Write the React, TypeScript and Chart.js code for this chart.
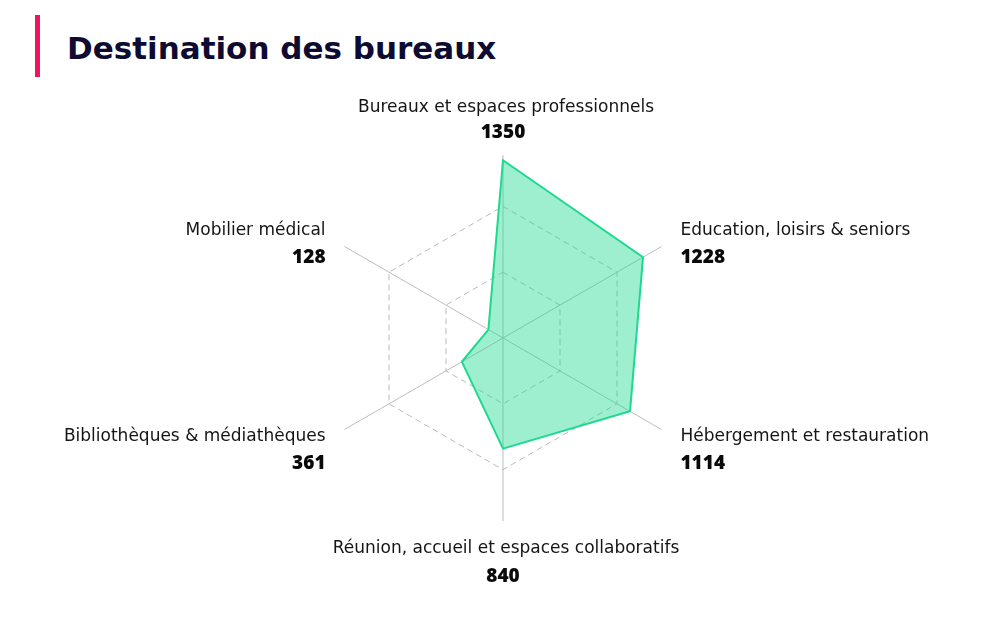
import {useRef, useEffect} from "react";
import {Chart, registerables} from "chart.js";

Chart.register(...registerables);

const categories = [
  "Bureaux et espaces professionnels",
  "Education, loisirs & seniors",
  "Hébergement et restauration",
  "Réunion, accueil et espaces collaboratifs",
  "Bibliothèques & médiathèques",
  "Mobilier médical",
];

const values = [1350, 1228, 1114, 840, 361, 128];

// dashed rings drawn at these values, the outer edge of the web is scaleMax
const ringValues = [0, 500, 1000];
const scaleMax = 1390;

const NAME_FONT = "17px 'DejaVu Sans'";
const VALUE_FONT = "800 19px 'Open Sans'";

// draws the two-line labels (name + bold value) around the web
const pointLabelsPlugin = {
  id: "pointLabels2",
  afterDraw(chart: any) {
    const scale = chart.scales.r;
    const ctx = chart.ctx;
    ctx.save();
    ctx.textBaseline = "middle";
    categories.forEach((name, i) => {
      const p = scale.getPointPosition(i, scale.drawingArea);
      const dx = p.x - scale.xCenter;
      const dy = p.y - scale.yCenter;
      let x = p.x;
      let yName = p.y;
      let yVal = p.y;
      let align: CanvasTextAlign = "center";
      if (Math.abs(dx) < 1) {
        x = p.x + 3;
        if (dy < 0) {
          yName = p.y - 47;
          yVal = p.y - 22;
        } else {
          yName = p.y + 28;
          yVal = p.y + 56;
        }
      } else {
        align = dx > 0 ? "left" : "right";
        x = dx > 0 ? p.x + 19 : p.x - 19;
        if (dy < 0) {
          yName = p.y - 16;
          yVal = p.y + 11;
        } else {
          yName = p.y + 7;
          yVal = p.y + 34;
        }
      }
      ctx.textAlign = align;
      ctx.fillStyle = "#151515";
      ctx.font = NAME_FONT;
      ctx.fillText(name, x, yName);
      ctx.font = VALUE_FONT;
      ctx.fillStyle = "#0a0a0a";
      ctx.fillText(String(values[i]), align === "center" ? x - 3 : x, yVal);
    });
    ctx.restore();
  },
};

const RadarChart = () => {
  const canvasRef = useRef<HTMLCanvasElement | null>(null);

  useEffect(() => {
    if (!canvasRef.current) return;
    const chart = new Chart(canvasRef.current, {
      type: "radar",
      data: {
        labels: categories,
        datasets: [
          {
            data: values,
            borderColor: "#1ed98f",
            backgroundColor: "rgba(30, 217, 143, 0.43)",
            borderWidth: 2,
            pointRadius: 0,
            fill: true,
          },
        ],
      },
      options: {
        responsive: false,
        animation: false,
        layout: {
          padding: {left: 320, right: 314, top: 155, bottom: 116},
        },
        plugins: {
          legend: {display: false},
          tooltip: {enabled: false},
        },
        scales: {
          r: {
            min: 0,
            max: scaleMax,
            ticks: {display: false},
            afterBuildTicks: (scale: any) => {
              scale.ticks = ringValues.map((v) => ({value: v}));
            },
            pointLabels: {display: false},
            grid: {
              circular: false,
              color: "#bababa",
              lineWidth: 1,
            },
            border: {dash: [6, 4]},
            angleLines: {color: "#bdbdbd", lineWidth: 1},
          },
        },
      },
      plugins: [pointLabelsPlugin],
    });
    return () => chart.destroy();
  }, []);

  return <canvas ref={canvasRef} width={1000} height={637}></canvas>;
};

const App = () => {
  return (
    <div style={{position: "absolute", left: 0, top: 0, width: 1000, height: 637, background: "#fff"}}>
      <div
        style={{
          position: "absolute",
          left: 35,
          top: 15,
          width: 5,
          height: 62,
          background: "#f0145a",
        }}
      />
      <div
        style={{
          position: "absolute",
          left: 67,
          top: 33,
          font: "bold 31px 'DejaVu Sans'",
          lineHeight: "31px",
          color: "#0e0b33",
          whiteSpace: "nowrap",
        }}
      >
        Destination des bureaux
      </div>
      <div style={{position: "absolute", left: 0, top: 0}}>
        <RadarChart />
      </div>
    </div>
  );
};

export default App;
